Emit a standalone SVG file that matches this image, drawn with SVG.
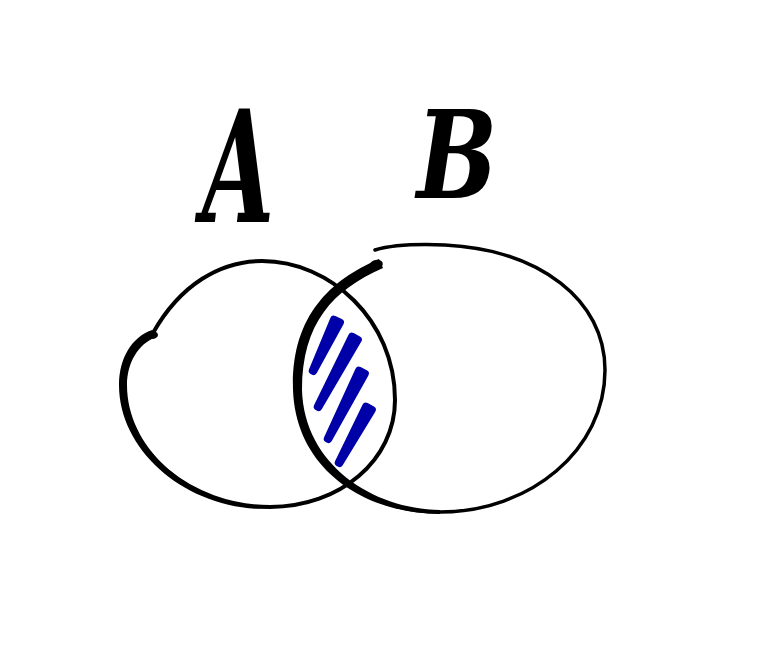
<svg xmlns="http://www.w3.org/2000/svg" width="757" height="645" viewBox="0 0 757 645">
<style>
.ln{fill:none;stroke:#000;stroke-linecap:round;stroke-linejoin:round}
.ink{fill:#000;stroke:none}
.hatch{fill:#0000a8;stroke:#0000a8;stroke-width:7.5;stroke-linejoin:round}
.lbl{font-family:"DejaVu Serif","Liberation Serif",serif;font-weight:bold;font-style:italic;fill:#000;text-anchor:middle}
</style>
<rect width="757" height="645" fill="#fff"/>
<g id="label-A"><text class="lbl" x="0" y="0" font-size="155" transform="translate(238,222) scale(0.6,1)">A</text></g>
<g id="label-B"><text class="lbl" x="0" y="0" font-size="122" transform="translate(457,198) scale(0.78,1)">B</text></g>
<g id="set-A">
<path class="ln" stroke-width="4" d="M153 333 C180 285,220 261,262 261 C330 261,395 320,395 400 C395 460,340 507,270 507 C190 507,123 450,123 385 C123 360,135 340,153 333"/>
<path class="ink" d="M152 330 C132 337,119 358,119 385 C119 452,188 511,270 509 C192 505,127 450,127 385 C127 363,138 344,156 337 Z"/>
<ellipse class="ink" cx="152" cy="335" rx="6" ry="4"/>
</g>
<g id="set-B">
<path class="ln" stroke-width="3.5" d="M375 250 C395 244,420 244,445 245 C540 250,605 300,605 370 C605 450,530 512,440 512 C370 512,300 470,297 390 C295 320,330 285,380 263"/>
<path class="ink" d="M440 514 C368 514,296 472,293 390 C291 318,328 281,379 259 L383 268 C333 290,302 323,302 390 C304 464,372 509,440 510 Z"/>
<ellipse class="ink" cx="376" cy="265" rx="7" ry="5" transform="rotate(-20 376 265)"/>
</g>
<g id="intersection-hatch">
<path class="hatch" d="M340.2 322.5 L313.5 371.3 L312.5 370.7 L333.8 319.5 Z"/>
<path class="hatch" d="M358.1 339.7 L318.5 407.3 L317.5 406.7 L351.9 336.3 Z"/>
<path class="hatch" d="M365.1 373.6 L328.5 439.3 L327.5 438.7 L358.9 370.4 Z"/>
<path class="hatch" d="M372.1 409.7 L339.5 463.3 L338.5 462.7 L365.9 406.3 Z"/>
</g>
</svg>
